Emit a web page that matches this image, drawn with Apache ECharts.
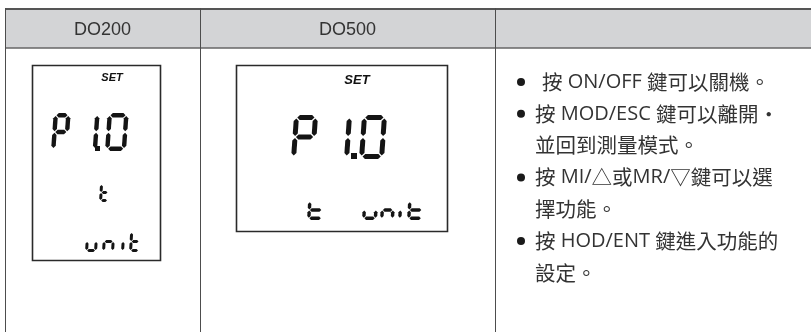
<!DOCTYPE html>
<html><head><meta charset="utf-8">
<script src="https://cdn.jsdelivr.net/npm/echarts@6/dist/echarts.min.js"></script>
<style>html,body{margin:0;padding:0;background:#fff}#c{width:811px;height:332px}</style>
</head><body><div id="c"></div>
<script>
// ---- content ----
const headers = ['DO200', 'DO500', ''];
const lcdTitle = 'SET';
const lcdMain = ['P', '1', '0'];      // main 7-seg characters (dot after '1')
const lcdSubA = ['t'];
const lcdSubB = ['u', 'n', 'i', 't'];
const bulletLines = [
  {bullet: true,  indent: true,  text: '按 ON/OFF 鍵可以關機。'},
  {bullet: true,  indent: false, text: '按 MOD/ESC 鍵可以離開・'},
  {bullet: false, indent: false, text: '並回到測量模式。'},
  {bullet: true,  indent: false, text: '按 MI/△或MR/▽鍵可以選'},
  {bullet: false, indent: false, text: '擇功能。'},
  {bullet: true,  indent: false, text: '按 HOD/ENT 鍵進入功能的'},
  {bullet: false, indent: false, text: '設定。'}
];

// ---- seven segment helpers ----
const SEGS = {P:'abefg', '1':'bc', '0':'abcdef', t:'defg', u:'cde', n:'ceg', i:'e'};
function segPolys(ch, x0, y0, w, h, t, slant, color) {
  const g = Math.max(0.6, t * 0.18), ht = t / 2, out = [];
  const tr = (p) => [x0 + p[0] + slant * (h - p[1]), y0 + p[1]];
  const hor = (yc, x1, x2) => [[x1, yc], [x1 + ht, yc - ht], [x2 - ht, yc - ht], [x2, yc], [x2 - ht, yc + ht], [x1 + ht, yc + ht]];
  const ver = (xc, y1, y2) => [[xc, y1], [xc + ht, y1 + ht], [xc + ht, y2 - ht], [xc, y2], [xc - ht, y2 - ht], [xc - ht, y1 + ht]];
  const def = {
    a: hor(ht, ht + g, w - ht - g),
    g: hor(h / 2, ht + g, w - ht - g),
    d: hor(h - ht, ht + g, w - ht - g),
    f: ver(ht, ht + g, h / 2 - g),
    e: ver(ht, h / 2 + g, h - ht - g),
    b: ver(w - ht, ht + g, h / 2 - g),
    c: ver(w - ht, h / 2 + g, h - ht - g)
  };
  for (const s of SEGS[ch]) {
    out.push({type: 'polygon', shape: {points: def[s].map(tr)}, style: {fill: color}, silent: true});
  }
  return out;
}
function dot(x, y, s, color) {
  return {type: 'rect', shape: {x: x, y: y, width: s, height: s}, style: {fill: color}, silent: true};
}
// split into CJK / Latin runs for rich text
const CJK = '\\u2E80-\\u9FFF\\uFF00-\\uFFEF\\u3000-\\u303F\\u25A0-\\u25FF\\u30FB';
function toRich(str) {
  const re = new RegExp('[' + CJK + ']+|[^' + CJK + ']+', 'g');
  const isC = new RegExp('[' + CJK + ']');
  return (str.match(re) || []).map(run => '{' + (isC.test(run[0]) ? 'c' : 'l') + '|' + run + '}').join('');
}

const els = [];
const LINE = '#4d4d4d';
const TXT = '#333333';
const SEG = '#141414';

// header band
els.push({type: 'rect', shape: {x: 5, y: 9, width: 806, height: 39}, style: {fill: '#d3d4d6'}, silent: true});
els.push({type: 'line', shape: {x1: 5, y1: 9, x2: 811, y2: 9}, style: {stroke: '#555', lineWidth: 2}});
els.push({type: 'line', shape: {x1: 5, y1: 48, x2: 811, y2: 48}, style: {stroke: '#666', lineWidth: 1.5}});
[5.5, 200.5, 495.5].forEach(x => {
  els.push({type: 'line', shape: {x1: x, y1: 8, x2: x, y2: 332}, style: {stroke: LINE, lineWidth: 1}});
});
const colCenters = [102.5, 347.5, 653];
headers.forEach((h, i) => {
  els.push({type: 'text', style: {text: h, x: colCenters[i], y: 30, align: 'center', verticalAlign: 'middle',
    fontFamily: 'Liberation Sans, Arial, sans-serif', fontSize: 18, fill: TXT}});
});

// ---- LCD 1 (DO200) ----
els.push({type: 'rect', shape: {x: 32.5, y: 65.5, width: 128, height: 195}, style: {fill: '#fff', stroke: '#2a2a2a', lineWidth: 1.6}});
els.push({type: 'text', style: {text: lcdTitle, x: 112, y: 78, align: 'center', verticalAlign: 'middle',
  font: 'italic bold 11px Liberation Sans, Arial, sans-serif', fill: '#111'}});
{
  const xs = [51, 78, 105], ws = [17, 19, 21];
  lcdMain.forEach((c, i) => els.push(...segPolys(c, xs[i], 113, ws[i], 38, 4.4, 0.07, SEG)));
  els.push(dot(95, 146, 5, SEG));
  lcdSubA.forEach((c, i) => els.push(...segPolys(c, 99, 183, 10, 19, 3, 0.06, SEG)));
  const sx = [85, 102, 121, 129], sw = [12, 12, 8, 11];
  lcdSubB.forEach((c, i) => els.push(...segPolys(c, sx[i], 231, sw[i], 21, 3, 0.06, SEG)));
}

// ---- LCD 2 (DO500) ----
els.push({type: 'rect', shape: {x: 236.5, y: 65.5, width: 211, height: 166}, style: {fill: '#fff', stroke: '#2a2a2a', lineWidth: 1.6}});
els.push({type: 'text', style: {text: lcdTitle, x: 357, y: 80, align: 'center', verticalAlign: 'middle',
  font: 'italic bold 13px Liberation Sans, Arial, sans-serif', fill: '#111'}});
{
  const xs = [291, 326, 359], ws = [24, 23, 25];
  lcdMain.forEach((c, i) => els.push(...segPolys(c, xs[i], 115, ws[i], 44, 5, 0.07, SEG)));
  els.push(dot(351, 153, 6, SEG));
  lcdSubA.forEach((c, i) => els.push(...segPolys(c, 307, 200, 16, 20, 3.4, 0.06, SEG)));
  const sx = [362, 380, 398, 407], sw = [15, 14, 8, 16];
  lcdSubB.forEach((c, i) => els.push(...segPolys(c, sx[i], 200, sw[i], 20, 3.4, 0.06, SEG)));
}

// ---- bullet text ----
const rich = {
  c: {fontFamily: 'Noto Sans CJK TC, sans-serif', fontSize: 20.5, fill: TXT, lineHeight: 26},
  l: {fontFamily: 'Open Sans, Noto Sans, sans-serif', fontSize: 20, fill: TXT, lineHeight: 26}
};
bulletLines.forEach((ln, i) => {
  const y = 82 + i * 31.8;
  if (ln.bullet) els.push({type: 'circle', shape: {cx: 521, cy: y, r: 4}, style: {fill: '#1a1a1a'}});
  els.push({type: 'text', style: {text: toRich(ln.text), rich: rich, x: ln.indent ? 542 : 535, y: y,
    align: 'left', verticalAlign: 'middle', fill: TXT}});
});

const chart = echarts.init(document.getElementById('c'), null, {renderer: 'canvas'});
chart.setOption({animation: false, backgroundColor: '#fff', graphic: {elements: els}});
</script></body></html>
